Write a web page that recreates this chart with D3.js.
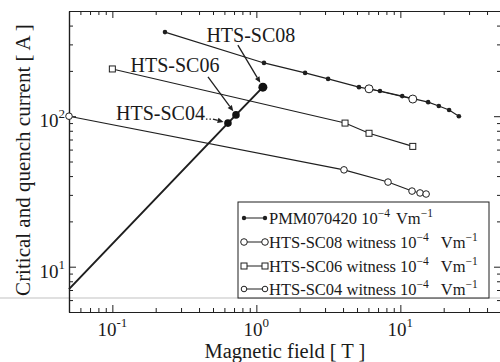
<!DOCTYPE html>
<html>
<head>
<meta charset="utf-8">
<script src="https://cdn.jsdelivr.net/npm/d3@7"></script>
<style>
  html, body { margin: 0; padding: 0; background: #fff; }
  svg { display: block; }
  text { font-family: "Liberation Serif", "Times New Roman", serif; fill: #1a1a1a; }
</style>
</head>
<body>
<svg id="chart" width="500" height="362"></svg>
<script>
// Critical current of the conductor and witness samples vs. magnetic field (log-log)
const fieldPMM   = [0.232, 1.13, 2.18, 3.15, 5.16, 7.22, 10.3, 15.6, 18.5, 21.8, 25.5];
const currentPMM = [362, 226, 194, 177, 156, 147, 136, 124, 117, 110, 100];

const fieldSC08   = [6.06, 12.2];
const currentSC08 = [152, 130];

const fieldSC06   = [0.1, 4.13, 6.06, 12.2];
const currentSC06 = [206, 90, 77, 63];

const fieldSC04   = [0.05, 4.06, 8.21, 12.05, 13.7, 15.1];
const currentSC04 = [100, 44, 36.5, 31.8, 30.9, 30.4];

// Load line of the coil and the quench points on it
const fieldLoad   = [0.05, 0.635, 0.722, 1.11];
const currentLoad = [7.1, 90, 102, 156];
const quenchNames   = ["HTS-SC04", "HTS-SC06", "HTS-SC08"];
const quenchField   = [0.635, 0.722, 1.11];
const quenchCurrent = [90, 102, 156];

// Axis ticks
const xMajor = [0.1, 1, 10];
const xMajorExp = ["-1", "0", "1"];
const xMinor = [0.05,0.06,0.07,0.08,0.09,0.2,0.3,0.4,0.5,0.6,0.7,0.8,0.9,2,3,4,5,6,7,8,9,20,30,40,50];
const yMajor = [10, 100];
const yMajorExp = ["1", "2"];
const yMinor = [5,6,7,8,9,20,30,40,50,60,70,80,90,200,300,400,500];

const legendNames = ["PMM070420 10", "HTS-SC08 witness 10", "HTS-SC06 witness 10", "HTS-SC04 witness 10"];

const svg = d3.select("#chart");
const L = 69, R = 501, T = 11, B = 312;
const x = d3.scaleLog().domain([0.05, 50]).range([L, R]);
const y = d3.scaleLog().domain([5, 500]).range([B, T]);
const ink = "#1f1f1f";

// faint horizontal streak across the sheet
svg.append("line").attr("x1", 0).attr("x2", 500).attr("y1", 298).attr("y2", 298)
  .attr("stroke", "#d6d6d6").attr("stroke-width", 1.5);

// axes with inward ticks on all four sides
function ax(gen, tr, vals, size) {
  const g = svg.append("g").attr("transform", tr)
    .call(gen.tickValues(vals).tickSize(size).tickSizeOuter(0).tickFormat(""));
  g.selectAll("path").attr("stroke", ink).attr("stroke-width", 1.2);
  g.selectAll("line").attr("stroke", ink).attr("stroke-width", 1);
  return g;
}
ax(d3.axisBottom(x), `translate(0,${B})`, xMinor, -4);
ax(d3.axisBottom(x), `translate(0,${B})`, xMajor, -7);
ax(d3.axisTop(x), `translate(0,${T})`, xMinor, -4);
ax(d3.axisTop(x), `translate(0,${T})`, xMajor, -7);
ax(d3.axisLeft(y), `translate(${L},0)`, yMinor, -4);
ax(d3.axisLeft(y), `translate(${L},0)`, yMajor, -7);
ax(d3.axisRight(y), `translate(${R},0)`, yMinor, -4);
ax(d3.axisRight(y), `translate(${R},0)`, yMajor, -7);

// tick labels with superscript exponents
xMajor.forEach((v, i) => {
  const t = svg.append("text").attr("x", x(v)).attr("y", 336)
    .attr("text-anchor", "middle").attr("font-size", 19);
  t.append("tspan").text("10");
  t.append("tspan").attr("dy", -9).attr("font-size", 13).text(xMajorExp[i]);
});
yMajor.forEach((v, i) => {
  const t = svg.append("text").attr("x", 65).attr("y", y(v) + 11)
    .attr("text-anchor", "end").attr("font-size", 19);
  t.append("tspan").text("10");
  t.append("tspan").attr("dy", -9).attr("font-size", 13).text(yMajorExp[i]);
});

// axis titles
svg.append("text").attr("x", 285).attr("y", 358).attr("text-anchor", "middle")
  .attr("font-size", 20.5).text("Magnetic field [ T ]");
svg.append("text").attr("transform", "translate(30,160) rotate(-90)")
  .attr("text-anchor", "middle").attr("font-size", 21)
  .text("Critical and quench current [ A ]");

const line = d3.line().x(d => x(d[0])).y(d => y(d[1]));
const zipPts = (a, b) => a.map((v, i) => [v, b[i]]);

// marker painters
function dots(pts, r) {
  svg.append("g").selectAll("circle").data(pts).join("circle")
    .attr("cx", d => x(d[0])).attr("cy", d => y(d[1])).attr("r", r).attr("fill", ink);
}
function rings(pts, r) {
  svg.append("g").selectAll("circle").data(pts).join("circle")
    .attr("cx", d => x(d[0])).attr("cy", d => y(d[1])).attr("r", r)
    .attr("fill", "#fff").attr("stroke", ink).attr("stroke-width", 1);
}
function squares(pts, s) {
  svg.append("g").selectAll("rect").data(pts).join("rect")
    .attr("x", d => x(d[0]) - s / 2).attr("y", d => y(d[1]) - s / 2)
    .attr("width", s).attr("height", s)
    .attr("fill", "#fff").attr("stroke", ink).attr("stroke-width", 1);
}

const ptsPMM = zipPts(fieldPMM, currentPMM);
const pts08 = zipPts(fieldSC08, currentSC08);
const pts06 = zipPts(fieldSC06, currentSC06);
const pts04 = zipPts(fieldSC04, currentSC04);
const ptsLoad = zipPts(fieldLoad, currentLoad);

[ptsPMM, pts08, pts06, pts04].forEach(p => {
  svg.append("path").attr("d", line(p)).attr("fill", "none")
    .attr("stroke", ink).attr("stroke-width", 1.1);
});
svg.append("path").attr("d", line(ptsLoad)).attr("fill", "none")
  .attr("stroke", ink).attr("stroke-width", 2);

dots(ptsPMM, 2.3);
rings(pts08, 4);
squares(pts06, 6);
rings(pts04, 3.3);

// quench points on the load line
const qPts = zipPts(quenchField, quenchCurrent);
svg.append("g").selectAll("circle").data(qPts).join("circle")
  .attr("cx", d => x(d[0])).attr("cy", d => y(d[1]))
  .attr("r", (d, i) => i === 2 ? 4.5 : 3.8).attr("fill", "#111");

// annotation arrows: [dx, dy] of arrow tail and label offsets from each quench point
const arrowTail = [[-15, -4], [-28, -38], [-25, -42]];
const labelPos  = [[-23, -3, "end"], [-61, -43, "middle"], [-12, -45, "middle"]];
function arrow(x1, y1, x2, y2) {
  const a = Math.atan2(y2 - y1, x2 - x1), len = 6, w = 2.6;
  svg.append("line").attr("x1", x1).attr("y1", y1).attr("x2", x2 - len * Math.cos(a)).attr("y2", y2 - len * Math.sin(a))
    .attr("stroke", ink).attr("stroke-width", 1.3);
  const p = [[x2, y2],
    [x2 - len * Math.cos(a) + w * Math.sin(a), y2 - len * Math.sin(a) - w * Math.cos(a)],
    [x2 - len * Math.cos(a) - w * Math.sin(a), y2 - len * Math.sin(a) + w * Math.cos(a)]];
  svg.append("polygon").attr("points", p.map(d => d.join(",")).join(" ")).attr("fill", ink);
}
qPts.forEach((d, i) => {
  const px = x(d[0]), py = y(d[1]);
  const r = i === 2 ? 5 : 4.5;
  const tx = px + arrowTail[i][0], ty = py + arrowTail[i][1];
  const a = Math.atan2(py - ty, px - tx);
  arrow(tx, ty, px - r * Math.cos(a), py - r * Math.sin(a));
  svg.append("text").attr("x", px + labelPos[i][0]).attr("y", py + labelPos[i][1])
    .attr("text-anchor", labelPos[i][2]).attr("font-size", 20).text(quenchNames[i]);
});
// dotted leader after the lowest label
{
  const px = x(quenchField[0]), py = y(quenchCurrent[0]);
  svg.append("line").attr("x1", px - 22).attr("x2", px - 15).attr("y1", py - 4).attr("y2", py - 4)
    .attr("stroke", ink).attr("stroke-width", 1.2).attr("stroke-dasharray", "1.5,2");
}

// legend
const lg = svg.append("g");
lg.append("rect").attr("x", 238).attr("y", 202).attr("width", 251).attr("height", 96)
  .attr("fill", "#fff").attr("stroke", ink).attr("stroke-width", 1);
const rowY = [218, 242, 266, 289];
legendNames.forEach((name, i) => {
  const cy = rowY[i];
  lg.append("line").attr("x1", 244).attr("x2", 265).attr("y1", cy).attr("y2", cy)
    .attr("stroke", ink).attr("stroke-width", 1);
  [244, 265].forEach(mx => {
    if (i === 0) lg.append("circle").attr("cx", mx).attr("cy", cy).attr("r", 2.2).attr("fill", ink);
    else if (i === 2) lg.append("rect").attr("x", mx - 3).attr("y", cy - 3).attr("width", 6).attr("height", 6)
      .attr("fill", "#fff").attr("stroke", ink);
    else lg.append("circle").attr("cx", mx).attr("cy", cy).attr("r", i === 1 ? 3.3 : 2.8)
      .attr("fill", "#fff").attr("stroke", ink);
  });
  const t = lg.append("text").attr("x", 269).attr("y", cy + 5.5).attr("font-size", 16.5);
  t.append("tspan").text(name);
  t.append("tspan").attr("dy", -7).attr("font-size", 11.5).text("\u2212" + "4");
  t.append("tspan").attr("dy", 7).attr("dx", i === 0 ? 6 : 12).text("Vm");
  t.append("tspan").attr("dy", -7).attr("font-size", 11.5).text("\u2212" + "1");
});
</script>
</body>
</html>
